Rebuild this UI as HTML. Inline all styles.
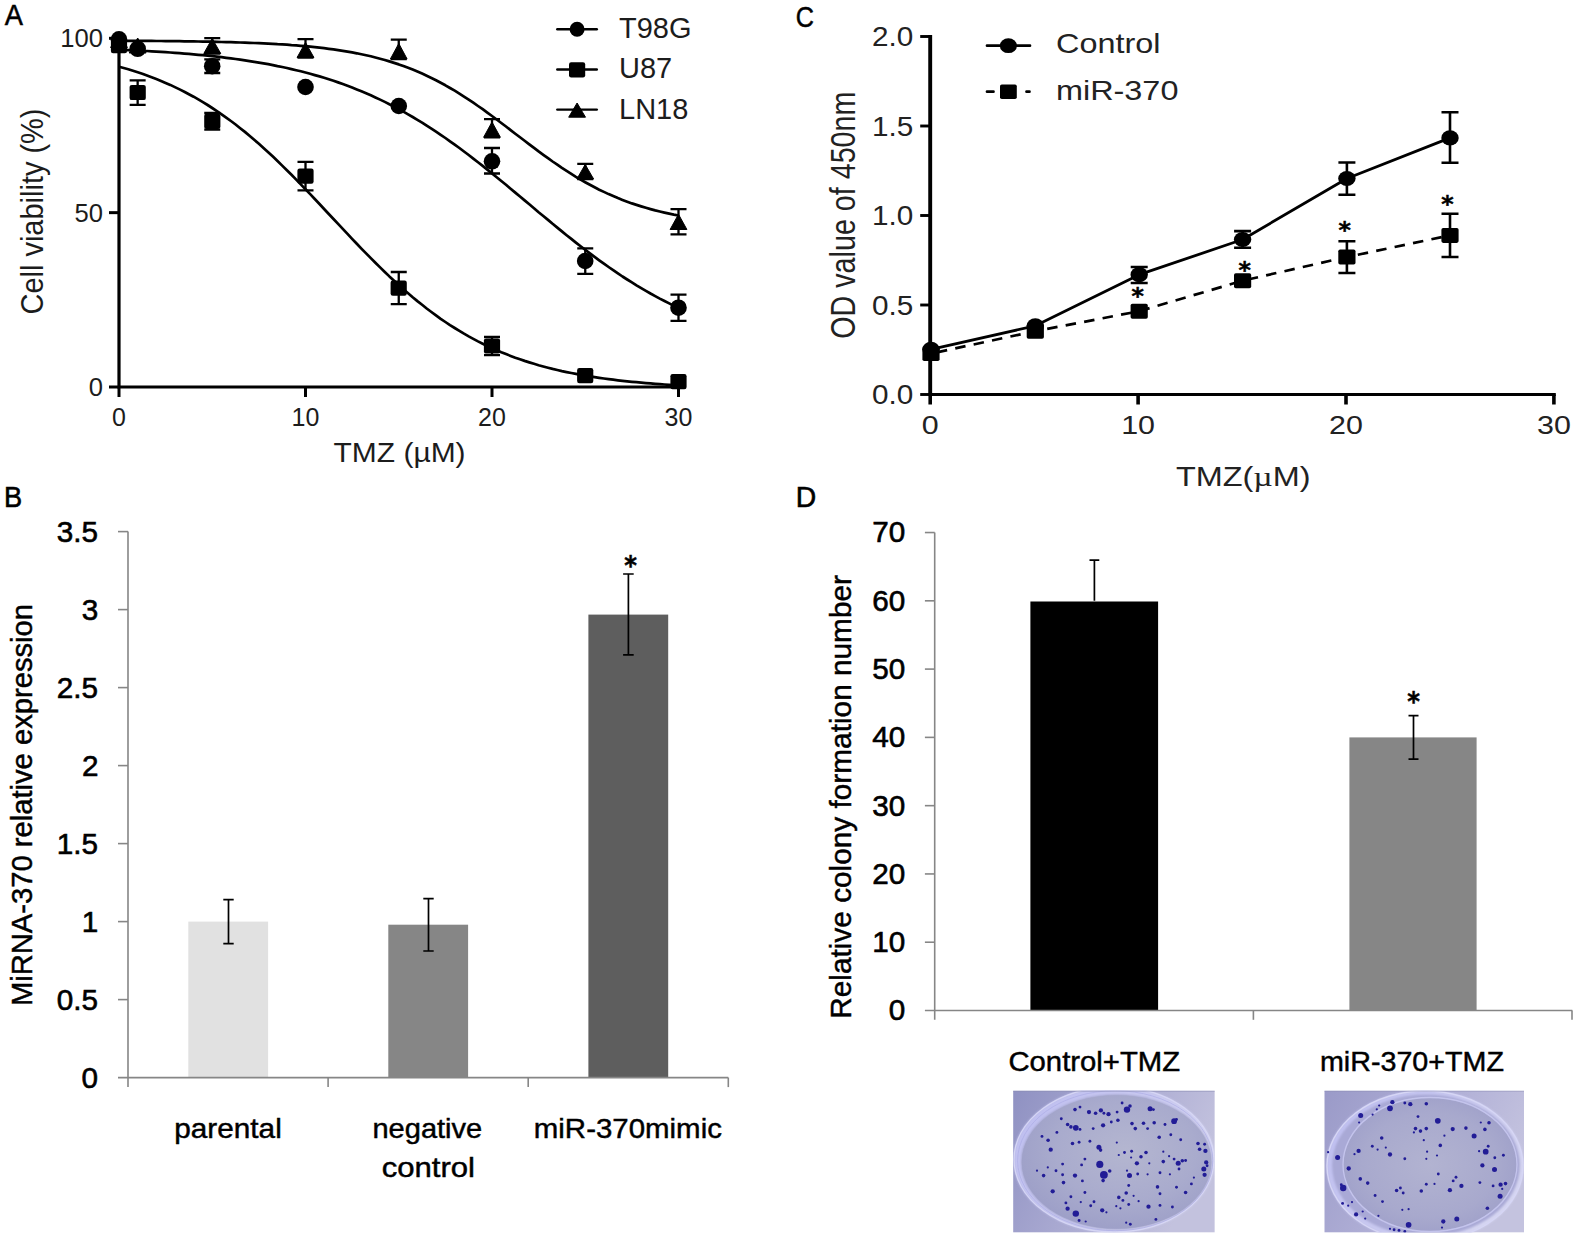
<!DOCTYPE html>
<html lang="en"><head><meta charset="utf-8"><title>Figure</title>
<style>
html,body{margin:0;padding:0;background:#fff;}
body{width:1575px;height:1235px;overflow:hidden;}
svg{display:block;font-family:"Liberation Sans", Arial, Helvetica, sans-serif;}
</style></head><body>
<svg width="1575" height="1235" viewBox="0 0 1575 1235">
<rect width="1575" height="1235" fill="#fff"/>
<g id="panelA">
<text transform="translate(4.73 24.90) scale(0.9324 1)" font-size="29.3" fill="#000" stroke="#000" stroke-width="0.5">A</text>
<path d="M119.0 36.8V387.0H680.1" stroke="#000" stroke-width="3.2" fill="none"/>
<line x1="109.00" y1="387.00" x2="119.00" y2="387.00" stroke="#000" stroke-width="3"/>
<text x="102.9" y="396.1" font-size="25.6" text-anchor="end" fill="#1c1c1c">0</text>
<line x1="109.00" y1="212.65" x2="119.00" y2="212.65" stroke="#000" stroke-width="3"/>
<text x="102.9" y="221.75" font-size="25.6" text-anchor="end" fill="#1c1c1c">50</text>
<line x1="109.00" y1="38.30" x2="119.00" y2="38.30" stroke="#000" stroke-width="3"/>
<text x="102.9" y="47.40000000000001" font-size="25.6" text-anchor="end" fill="#1c1c1c">100</text>
<line x1="119.00" y1="387.00" x2="119.00" y2="397.00" stroke="#000" stroke-width="3"/>
<text x="119.0" y="426" font-size="25" text-anchor="middle" fill="#1c1c1c">0</text>
<line x1="305.50" y1="387.00" x2="305.50" y2="397.00" stroke="#000" stroke-width="3"/>
<text x="305.5" y="426" font-size="25" text-anchor="middle" fill="#1c1c1c">10</text>
<line x1="492.00" y1="387.00" x2="492.00" y2="397.00" stroke="#000" stroke-width="3"/>
<text x="492.0" y="426" font-size="25" text-anchor="middle" fill="#1c1c1c">20</text>
<line x1="678.50" y1="387.00" x2="678.50" y2="397.00" stroke="#000" stroke-width="3"/>
<text x="678.5" y="426" font-size="25" text-anchor="middle" fill="#1c1c1c">30</text>
<text transform="translate(333.53 461.50) scale(1.0551 1)" font-size="28.4" fill="#1c1c1c">TMZ (µM)</text>
<text transform="translate(43 211.5) rotate(-90)" font-size="31" text-anchor="middle" textLength="206" lengthAdjust="spacingAndGlyphs" fill="#1c1c1c">Cell viability (%)</text>
<path d="M119.0 40.7 L123.7 40.8 L128.3 40.8 L133.0 40.8 L137.7 40.8 L142.3 40.9 L147.0 40.9 L151.6 40.9 L156.3 41.0 L161.0 41.0 L165.6 41.1 L170.3 41.1 L174.9 41.2 L179.6 41.2 L184.3 41.3 L188.9 41.3 L193.6 41.4 L198.3 41.5 L202.9 41.6 L207.6 41.6 L212.2 41.7 L216.9 41.8 L221.6 42.0 L226.2 42.1 L230.9 42.2 L235.6 42.3 L240.2 42.5 L244.9 42.6 L249.5 42.8 L254.2 43.0 L258.9 43.2 L263.5 43.4 L268.2 43.6 L272.9 43.9 L277.5 44.2 L282.2 44.4 L286.9 44.7 L291.5 45.1 L296.2 45.4 L300.8 45.8 L305.5 46.2 L310.2 46.7 L314.8 47.1 L319.5 47.7 L324.1 48.2 L328.8 48.8 L333.5 49.4 L338.1 50.1 L342.8 50.8 L347.5 51.6 L352.1 52.4 L356.8 53.3 L361.4 54.3 L366.1 55.3 L370.8 56.3 L375.4 57.5 L380.1 58.7 L384.8 60.0 L389.4 61.4 L394.1 62.9 L398.8 64.4 L403.4 66.1 L408.1 67.8 L412.7 69.6 L417.4 71.6 L422.1 73.6 L426.7 75.7 L431.4 78.0 L436.0 80.3 L440.7 82.8 L445.4 85.3 L450.0 88.0 L454.7 90.7 L459.4 93.6 L464.0 96.6 L468.7 99.6 L473.3 102.7 L478.0 106.0 L482.7 109.2 L487.3 112.6 L492.0 116.0 L496.7 119.5 L501.3 123.0 L506.0 126.5 L510.6 130.1 L515.3 133.7 L520.0 137.3 L524.6 140.8 L529.3 144.4 L534.0 147.9 L538.6 151.4 L543.3 154.8 L548.0 158.2 L552.6 161.5 L557.3 164.7 L561.9 167.9 L566.6 170.9 L571.3 173.9 L575.9 176.8 L580.6 179.6 L585.2 182.2 L589.9 184.8 L594.6 187.3 L599.2 189.7 L603.9 191.9 L608.6 194.1 L613.2 196.1 L617.9 198.1 L622.5 199.9 L627.2 201.7 L631.9 203.4 L636.5 204.9 L641.2 206.4 L645.9 207.8 L650.5 209.1 L655.2 210.4 L659.8 211.5 L664.5 212.6 L669.2 213.6 L673.8 214.6 L678.5 215.5" stroke="#000" stroke-width="2.7" fill="none" stroke-linejoin="round"/>
<path d="M119.0 49.7 L123.7 49.9 L128.3 50.1 L133.0 50.3 L137.7 50.5 L142.3 50.8 L147.0 51.0 L151.6 51.3 L156.3 51.6 L161.0 51.9 L165.6 52.2 L170.3 52.5 L174.9 52.8 L179.6 53.2 L184.3 53.6 L188.9 53.9 L193.6 54.4 L198.3 54.8 L202.9 55.2 L207.6 55.7 L212.2 56.2 L216.9 56.7 L221.6 57.2 L226.2 57.8 L230.9 58.4 L235.6 59.0 L240.2 59.7 L244.9 60.4 L249.5 61.1 L254.2 61.8 L258.9 62.6 L263.5 63.4 L268.2 64.2 L272.9 65.1 L277.5 66.1 L282.2 67.0 L286.9 68.0 L291.5 69.1 L296.2 70.2 L300.8 71.3 L305.5 72.5 L310.2 73.8 L314.8 75.1 L319.5 76.4 L324.1 77.8 L328.8 79.3 L333.5 80.8 L338.1 82.4 L342.8 84.1 L347.5 85.8 L352.1 87.5 L356.8 89.4 L361.4 91.3 L366.1 93.3 L370.8 95.3 L375.4 97.4 L380.1 99.6 L384.8 101.9 L389.4 104.2 L394.1 106.6 L398.8 109.1 L403.4 111.6 L408.1 114.3 L412.7 117.0 L417.4 119.8 L422.1 122.6 L426.7 125.6 L431.4 128.6 L436.0 131.6 L440.7 134.8 L445.4 138.0 L450.0 141.3 L454.7 144.6 L459.4 148.0 L464.0 151.5 L468.7 155.0 L473.3 158.6 L478.0 162.2 L482.7 165.9 L487.3 169.6 L492.0 173.4 L496.7 177.2 L501.3 181.0 L506.0 184.8 L510.6 188.7 L515.3 192.6 L520.0 196.5 L524.6 200.4 L529.3 204.3 L534.0 208.2 L538.6 212.2 L543.3 216.0 L548.0 219.9 L552.6 223.8 L557.3 227.6 L561.9 231.4 L566.6 235.2 L571.3 238.9 L575.9 242.6 L580.6 246.3 L585.2 249.8 L589.9 253.4 L594.6 256.9 L599.2 260.3 L603.9 263.7 L608.6 267.0 L613.2 270.2 L617.9 273.4 L622.5 276.5 L627.2 279.5 L631.9 282.4 L636.5 285.3 L641.2 288.1 L645.9 290.8 L650.5 293.5 L655.2 296.1 L659.8 298.6 L664.5 301.0 L669.2 303.4 L673.8 305.7 L678.5 307.9" stroke="#000" stroke-width="2.7" fill="none" stroke-linejoin="round"/>
<path d="M119.0 66.7 L123.7 68.0 L128.3 69.3 L133.0 70.8 L137.7 72.3 L142.3 73.8 L147.0 75.5 L151.6 77.2 L156.3 79.0 L161.0 80.9 L165.6 82.9 L170.3 84.9 L174.9 87.1 L179.6 89.4 L184.3 91.7 L188.9 94.2 L193.6 96.7 L198.3 99.4 L202.9 102.1 L207.6 105.0 L212.2 108.0 L216.9 111.1 L221.6 114.3 L226.2 117.6 L230.9 121.0 L235.6 124.5 L240.2 128.2 L244.9 131.9 L249.5 135.8 L254.2 139.8 L258.9 143.8 L263.5 148.0 L268.2 152.2 L272.9 156.6 L277.5 161.0 L282.2 165.6 L286.9 170.2 L291.5 174.8 L296.2 179.6 L300.8 184.4 L305.5 189.2 L310.2 194.1 L314.8 199.0 L319.5 204.0 L324.1 209.0 L328.8 214.0 L333.5 219.0 L338.1 223.9 L342.8 228.9 L347.5 233.9 L352.1 238.8 L356.8 243.7 L361.4 248.6 L366.1 253.4 L370.8 258.1 L375.4 262.8 L380.1 267.4 L384.8 271.9 L389.4 276.4 L394.1 280.7 L398.8 285.0 L403.4 289.2 L408.1 293.2 L412.7 297.2 L417.4 301.1 L422.1 304.8 L426.7 308.5 L431.4 312.0 L436.0 315.4 L440.7 318.8 L445.4 322.0 L450.0 325.1 L454.7 328.0 L459.4 330.9 L464.0 333.7 L468.7 336.4 L473.3 338.9 L478.0 341.4 L482.7 343.7 L487.3 346.0 L492.0 348.2 L496.7 350.2 L501.3 352.2 L506.0 354.1 L510.6 355.9 L515.3 357.7 L520.0 359.3 L524.6 360.9 L529.3 362.4 L534.0 363.8 L538.6 365.2 L543.3 366.5 L548.0 367.7 L552.6 368.9 L557.3 370.0 L561.9 371.1 L566.6 372.1 L571.3 373.0 L575.9 373.9 L580.6 374.8 L585.2 375.6 L589.9 376.4 L594.6 377.1 L599.2 377.8 L603.9 378.5 L608.6 379.1 L613.2 379.7 L617.9 380.3 L622.5 380.8 L627.2 381.3 L631.9 381.8 L636.5 382.2 L641.2 382.7 L645.9 383.1 L650.5 383.4 L655.2 383.8 L659.8 384.1 L664.5 384.5 L669.2 384.8 L673.8 385.1 L678.5 385.3" stroke="#000" stroke-width="2.7" fill="none" stroke-linejoin="round"/>
<path d="M110.6 47.5L119.0 32.5L127.4 47.5Z" fill="#000" stroke="#000" stroke-width="1" stroke-linejoin="round"/>
<path d="M129.2 53.0L137.7 38.0L146.1 53.0Z" fill="#000" stroke="#000" stroke-width="1" stroke-linejoin="round"/>
<path d="M212.25 38.10V53.50M204.25 38.10H220.25M204.25 53.50H220.25" stroke="#000" stroke-width="2.3" fill="none"/>
<path d="M203.8 53.5L212.2 38.5L220.7 53.5Z" fill="#000" stroke="#000" stroke-width="1" stroke-linejoin="round"/>
<path d="M305.50 39.20V57.50M297.50 39.20H313.50M297.50 57.50H313.50" stroke="#000" stroke-width="2.3" fill="none"/>
<path d="M297.1 57.5L305.5 42.5L313.9 57.5Z" fill="#000" stroke="#000" stroke-width="1" stroke-linejoin="round"/>
<path d="M398.75 39.70V59.00M390.75 39.70H406.75M390.75 59.00H406.75" stroke="#000" stroke-width="2.3" fill="none"/>
<path d="M390.4 59.0L398.8 43.5L407.1 59.0Z" fill="#000" stroke="#000" stroke-width="1" stroke-linejoin="round"/>
<path d="M492.00 119.20V137.30M484.00 119.20H500.00M484.00 137.30H500.00" stroke="#000" stroke-width="2.3" fill="none"/>
<path d="M483.6 137.3L492.0 122.0L500.4 137.3Z" fill="#000" stroke="#000" stroke-width="1" stroke-linejoin="round"/>
<path d="M585.25 163.80V179.00M577.25 163.80H593.25M577.25 179.00H593.25" stroke="#000" stroke-width="2.3" fill="none"/>
<path d="M576.9 179.0L585.2 164.5L593.6 179.0Z" fill="#000" stroke="#000" stroke-width="1" stroke-linejoin="round"/>
<path d="M678.50 209.20V234.30M670.50 209.20H686.50M670.50 234.30H686.50" stroke="#000" stroke-width="2.3" fill="none"/>
<path d="M670.1 229.5L678.5 214.3L686.9 229.5Z" fill="#000" stroke="#000" stroke-width="1" stroke-linejoin="round"/>
<circle cx="119.0" cy="39.4" r="8.3" fill="#000"/>
<circle cx="137.7" cy="48.8" r="8.3" fill="#000"/>
<path d="M212.25 59.40V73.00M204.25 59.40H220.25M204.25 73.00H220.25" stroke="#000" stroke-width="2.3" fill="none"/>
<circle cx="212.2" cy="66.2" r="8.3" fill="#000"/>
<circle cx="305.5" cy="87.0" r="8.3" fill="#000"/>
<circle cx="398.8" cy="106.0" r="8.3" fill="#000"/>
<path d="M492.00 148.00V173.50M484.00 148.00H500.00M484.00 173.50H500.00" stroke="#000" stroke-width="2.3" fill="none"/>
<circle cx="492.0" cy="161.3" r="8.3" fill="#000"/>
<path d="M585.25 248.40V273.80M577.25 248.40H593.25M577.25 273.80H593.25" stroke="#000" stroke-width="2.3" fill="none"/>
<circle cx="585.2" cy="261.0" r="8.3" fill="#000"/>
<path d="M678.50 294.70V320.80M670.50 294.70H686.50M670.50 320.80H686.50" stroke="#000" stroke-width="2.3" fill="none"/>
<circle cx="678.5" cy="307.7" r="8.3" fill="#000"/>
<rect x="110.9" y="38.1" width="16.2" height="15.2" rx="2.2" fill="#000"/>
<path d="M137.65 80.30V104.90M129.65 80.30H145.65M129.65 104.90H145.65" stroke="#000" stroke-width="2.3" fill="none"/>
<rect x="129.6" y="84.9" width="16.2" height="15.2" rx="2.2" fill="#000"/>
<path d="M212.25 113.00V129.60M204.25 113.00H220.25M204.25 129.60H220.25" stroke="#000" stroke-width="2.3" fill="none"/>
<rect x="204.2" y="113.7" width="16.2" height="15.2" rx="2.2" fill="#000"/>
<path d="M305.50 161.90V190.30M297.50 161.90H313.50M297.50 190.30H313.50" stroke="#000" stroke-width="2.3" fill="none"/>
<rect x="297.4" y="168.5" width="16.2" height="15.2" rx="2.2" fill="#000"/>
<path d="M398.75 272.00V304.10M390.75 272.00H406.75M390.75 304.10H406.75" stroke="#000" stroke-width="2.3" fill="none"/>
<rect x="390.6" y="280.6" width="16.2" height="15.2" rx="2.2" fill="#000"/>
<path d="M492.00 337.00V355.20M484.00 337.00H500.00M484.00 355.20H500.00" stroke="#000" stroke-width="2.3" fill="none"/>
<rect x="483.9" y="338.4" width="16.2" height="15.2" rx="2.2" fill="#000"/>
<rect x="577.1" y="368.1" width="16.2" height="15.2" rx="2.2" fill="#000"/>
<rect x="670.4" y="374.1" width="16.2" height="15.2" rx="2.2" fill="#000"/>
<line x1="557.30" y1="29.30" x2="596.80" y2="29.30" stroke="#000" stroke-width="2.4" stroke-linecap="round"/>
<circle cx="577.1" cy="29.3" r="7.5" fill="#000"/>
<text x="619" y="38.2" font-size="29" fill="#1c1c1c">T98G</text>
<line x1="557.30" y1="69.50" x2="596.80" y2="69.50" stroke="#000" stroke-width="2.4" stroke-linecap="round"/>
<rect x="569.0" y="62.2" width="16.2" height="15.2" rx="2.2" fill="#000"/>
<text x="619" y="78.4" font-size="29" fill="#1c1c1c">U87</text>
<line x1="557.30" y1="109.60" x2="596.80" y2="109.60" stroke="#000" stroke-width="2.4" stroke-linecap="round"/>
<path d="M568.7 117.2L577.1 103.0L585.5 117.2Z" fill="#000" stroke="#000" stroke-width="1" stroke-linejoin="round"/>
<text x="619" y="118.5" font-size="29" fill="#1c1c1c">LN18</text>
</g>
<g id="panelC">
<text transform="translate(795.74 26.50) scale(0.8749 1)" font-size="28.8" fill="#000" stroke="#000" stroke-width="0.5">C</text>
<path d="M930.2 35.0V394.5" stroke="#000" stroke-width="3.9" fill="none"/>
<path d="M928.3 394.5H1555.8" stroke="#000" stroke-width="3" fill="none"/>
<line x1="920.20" y1="394.50" x2="930.20" y2="394.50" stroke="#000" stroke-width="2.9"/>
<text transform="translate(913.2 404.2) scale(1.1 1)" font-size="27" text-anchor="end" fill="#222">0.0</text>
<line x1="920.20" y1="305.00" x2="930.20" y2="305.00" stroke="#000" stroke-width="2.9"/>
<text transform="translate(913.2 314.7) scale(1.1 1)" font-size="27" text-anchor="end" fill="#222">0.5</text>
<line x1="920.20" y1="215.50" x2="930.20" y2="215.50" stroke="#000" stroke-width="2.9"/>
<text transform="translate(913.2 225.2) scale(1.1 1)" font-size="27" text-anchor="end" fill="#222">1.0</text>
<line x1="920.20" y1="126.00" x2="930.20" y2="126.00" stroke="#000" stroke-width="2.9"/>
<text transform="translate(913.2 135.7) scale(1.1 1)" font-size="27" text-anchor="end" fill="#222">1.5</text>
<line x1="920.20" y1="36.50" x2="930.20" y2="36.50" stroke="#000" stroke-width="2.9"/>
<text transform="translate(913.2 46.2) scale(1.1 1)" font-size="27" text-anchor="end" fill="#222">2.0</text>
<line x1="930.20" y1="394.50" x2="930.20" y2="404.50" stroke="#000" stroke-width="3.6"/>
<text transform="translate(930.2 433.6) scale(1.17 1)" font-size="26" text-anchor="middle" fill="#222">0</text>
<line x1="1138.10" y1="394.50" x2="1138.10" y2="404.50" stroke="#000" stroke-width="3.6"/>
<text transform="translate(1138.1 433.6) scale(1.17 1)" font-size="26" text-anchor="middle" fill="#222">10</text>
<line x1="1346.00" y1="394.50" x2="1346.00" y2="404.50" stroke="#000" stroke-width="3.6"/>
<text transform="translate(1346.0 433.6) scale(1.17 1)" font-size="26" text-anchor="middle" fill="#222">20</text>
<line x1="1553.90" y1="394.50" x2="1553.90" y2="404.50" stroke="#000" stroke-width="3.6"/>
<text transform="translate(1553.9 433.6) scale(1.17 1)" font-size="26" text-anchor="middle" fill="#222">30</text>
<text transform="translate(1176 486.2) scale(1.2 1)" font-size="27" fill="#222">TMZ(<tspan font-family='"Liberation Serif", "DejaVu Serif", serif' font-size="28">µ</tspan>M)</text>
<text transform="translate(854.60 338.76) rotate(-90) scale(1.0633 1.28)" font-size="27" fill="#222">OD value of 450nm</text>
<path d="M931.0 349.3 L1035.3 325.8 L1139.2 274.7 L1242.6 239.5 L1346.9 178.5 L1450.0 137.9" stroke="#000" stroke-width="2.8" fill="none" stroke-linejoin="round"/>
<path d="M931.0 353.6 L1035.3 331.2 L1139.2 311.2 L1242.6 280.7 L1346.9 257.0 L1450.0 235.4" stroke="#000" stroke-width="2.7" fill="none" stroke-dasharray="10.5 8.3" stroke-dashoffset="-6"/>
<ellipse cx="931.0" cy="349.3" rx="8.7" ry="7.6" fill="#000"/>
<ellipse cx="1035.3" cy="325.8" rx="8.7" ry="7.6" fill="#000"/>
<path d="M1139.20 267.00V283.00M1130.70 267.00H1147.70M1130.70 283.00H1147.70" stroke="#000" stroke-width="2.6" fill="none"/>
<ellipse cx="1139.2" cy="274.7" rx="8.7" ry="7.6" fill="#000"/>
<path d="M1242.60 231.10V247.70M1234.10 231.10H1251.10M1234.10 247.70H1251.10" stroke="#000" stroke-width="2.6" fill="none"/>
<ellipse cx="1242.6" cy="239.5" rx="8.7" ry="7.6" fill="#000"/>
<path d="M1346.90 162.50V194.80M1338.40 162.50H1355.40M1338.40 194.80H1355.40" stroke="#000" stroke-width="2.6" fill="none"/>
<ellipse cx="1346.9" cy="178.5" rx="8.7" ry="7.6" fill="#000"/>
<path d="M1450.00 112.30V162.80M1441.50 112.30H1458.50M1441.50 162.80H1458.50" stroke="#000" stroke-width="2.6" fill="none"/>
<ellipse cx="1450.0" cy="137.9" rx="8.7" ry="7.6" fill="#000"/>
<rect x="922.4" y="346.1" width="17.2" height="15.0" rx="1.8" fill="#000"/>
<rect x="1026.7" y="323.7" width="17.2" height="15.0" rx="1.8" fill="#000"/>
<rect x="1130.6" y="303.7" width="17.2" height="15.0" rx="1.8" fill="#000"/>
<rect x="1234.0" y="273.2" width="17.2" height="15.0" rx="1.8" fill="#000"/>
<path d="M1346.90 241.30V273.00M1338.40 241.30H1355.40M1338.40 273.00H1355.40" stroke="#000" stroke-width="2.6" fill="none"/>
<rect x="1338.3" y="249.5" width="17.2" height="15.0" rx="1.8" fill="#000"/>
<path d="M1450.00 213.80V257.00M1441.50 213.80H1458.50M1441.50 257.00H1458.50" stroke="#000" stroke-width="2.6" fill="none"/>
<rect x="1441.4" y="227.9" width="17.2" height="15.0" rx="1.8" fill="#000"/>
<text transform="translate(1131.53 303.83) scale(1.036 1)" font-size="22.80" font-weight="bold" font-family='"DejaVu Sans", "Liberation Sans", sans-serif' fill="#000" stroke="#000" stroke-width="0.5">*</text>
<text transform="translate(1238.43 278.33) scale(1.036 1)" font-size="22.80" font-weight="bold" font-family='"DejaVu Sans", "Liberation Sans", sans-serif' fill="#000" stroke="#000" stroke-width="0.5">*</text>
<text transform="translate(1338.53 238.43) scale(1.036 1)" font-size="22.80" font-weight="bold" font-family='"DejaVu Sans", "Liberation Sans", sans-serif' fill="#000" stroke="#000" stroke-width="0.5">*</text>
<text transform="translate(1441.13 212.23) scale(1.036 1)" font-size="22.80" font-weight="bold" font-family='"DejaVu Sans", "Liberation Sans", sans-serif' fill="#000" stroke="#000" stroke-width="0.5">*</text>
<line x1="987.00" y1="45.70" x2="1030.00" y2="45.70" stroke="#000" stroke-width="2.7" stroke-linecap="round"/>
<ellipse cx="1008.4" cy="45.7" rx="8.6" ry="7.4" fill="#000"/>
<text transform="translate(1056 53.3) scale(1.2 1)" font-size="27" fill="#222">Control</text>
<line x1="987.00" y1="91.70" x2="993.50" y2="91.70" stroke="#000" stroke-width="2.7" stroke-linecap="round"/>
<line x1="1026.50" y1="91.70" x2="1029.50" y2="91.70" stroke="#000" stroke-width="2.7" stroke-linecap="round"/>
<rect x="1000.0" y="84.4" width="16.8" height="14.6" rx="1.8" fill="#000"/>
<text transform="translate(1056 99.5) scale(1.2 1)" font-size="27" fill="#222">miR-370</text>
</g>
<g id="panelB">
<text transform="translate(4.05 506.60) scale(0.9390 1)" font-size="29" fill="#000" stroke="#000" stroke-width="0.6">B</text>
<rect x="188.3" y="921.6" width="79.8" height="156.0" fill="#e1e1e1"/>
<rect x="388.3" y="924.7" width="79.8" height="152.9" fill="#868686"/>
<rect x="588.4" y="614.6" width="79.8" height="463.0" fill="#5e5e5e"/>
<path d="M128.0 531.6V1087.1M118.0 1077.6H728.3" stroke="#868686" stroke-width="1.6" fill="none"/>
<text transform="translate(81.53 1087.50) scale(1.0000 1)" font-size="29.7" fill="#000" stroke="#000" stroke-width="0.6">0</text>
<line x1="118.00" y1="999.60" x2="128.00" y2="999.60" stroke="#868686" stroke-width="1.6"/>
<text transform="translate(56.81 1009.50) scale(1.0000 1)" font-size="29.7" fill="#000" stroke="#000" stroke-width="0.6">0.5</text>
<line x1="118.00" y1="921.60" x2="128.00" y2="921.60" stroke="#868686" stroke-width="1.6"/>
<text transform="translate(81.83 931.50) scale(1.0000 1)" font-size="29.7" fill="#000" stroke="#000" stroke-width="0.6">1</text>
<line x1="118.00" y1="843.60" x2="128.00" y2="843.60" stroke="#868686" stroke-width="1.6"/>
<text transform="translate(56.81 853.50) scale(1.0000 1)" font-size="29.7" fill="#000" stroke="#000" stroke-width="0.6">1.5</text>
<line x1="118.00" y1="765.60" x2="128.00" y2="765.60" stroke="#868686" stroke-width="1.6"/>
<text transform="translate(81.90 775.50) scale(1.0000 1)" font-size="29.7" fill="#000" stroke="#000" stroke-width="0.6">2</text>
<line x1="118.00" y1="687.60" x2="128.00" y2="687.60" stroke="#868686" stroke-width="1.6"/>
<text transform="translate(56.81 697.50) scale(1.0000 1)" font-size="29.7" fill="#000" stroke="#000" stroke-width="0.6">2.5</text>
<line x1="118.00" y1="609.60" x2="128.00" y2="609.60" stroke="#868686" stroke-width="1.6"/>
<text transform="translate(81.68 619.50) scale(1.0000 1)" font-size="29.7" fill="#000" stroke="#000" stroke-width="0.6">3</text>
<line x1="118.00" y1="531.60" x2="128.00" y2="531.60" stroke="#868686" stroke-width="1.6"/>
<text transform="translate(56.81 541.50) scale(1.0000 1)" font-size="29.7" fill="#000" stroke="#000" stroke-width="0.6">3.5</text>
<line x1="328.10" y1="1077.60" x2="328.10" y2="1087.10" stroke="#868686" stroke-width="1.6"/>
<line x1="528.20" y1="1077.60" x2="528.20" y2="1087.10" stroke="#868686" stroke-width="1.6"/>
<line x1="728.30" y1="1077.60" x2="728.30" y2="1087.10" stroke="#868686" stroke-width="1.6"/>
<path d="M228.50 899.70V943.70M223.30 899.70H233.70M223.30 943.70H233.70" stroke="#000" stroke-width="1.7" fill="none"/>
<path d="M428.50 898.70V951.00M423.30 898.70H433.70M423.30 951.00H433.70" stroke="#000" stroke-width="1.7" fill="none"/>
<path d="M628.40 574.00V654.80M623.10 574.00H633.70M623.10 654.80H633.70" stroke="#000" stroke-width="1.7" fill="none"/>
<text transform="translate(624.27 574.76) scale(0.940 1)" font-size="25.81" font-weight="bold" font-family='"DejaVu Sans", "Liberation Sans", sans-serif' fill="#000" stroke="#000" stroke-width="0.5">*</text>
<text transform="translate(174.27 1137.90) scale(1.0740 1)" font-size="27.7" fill="#000" stroke="#000" stroke-width="0.45">parental</text>
<text transform="translate(372.44 1137.90) scale(1.0486 1)" font-size="27.7" fill="#000" stroke="#000" stroke-width="0.45">negative</text>
<text transform="translate(381.68 1176.70) scale(1.1233 1)" font-size="27.7" fill="#000" stroke="#000" stroke-width="0.45">control</text>
<text transform="translate(533.81 1138.00) scale(1.0632 1)" font-size="27.7" fill="#000" stroke="#000" stroke-width="0.45">miR-370mimic</text>
<text transform="translate(31.80 1006.11) rotate(-90) scale(1.0066 1.0)" font-size="29" fill="#000" stroke="#000" stroke-width="0.45">MiRNA-370 relative expression</text>
</g>
<g id="panelD">
<text transform="translate(795.66 506.60) scale(0.9777 1)" font-size="29" fill="#000" stroke="#000" stroke-width="0.6">D</text>
<rect x="1030.4" y="601.5" width="127.7" height="409.0" fill="#000"/>
<rect x="1349.4" y="737.4" width="127.2" height="273.1" fill="#868686"/>
<path d="M934.7 532.5V1019.8M924.9000000000001 1010.5H1572.3" stroke="#868686" stroke-width="1.6" fill="none"/>
<text transform="translate(888.83 1020.40) scale(1.0000 1)" font-size="29.7" fill="#000" stroke="#000" stroke-width="0.6">0</text>
<line x1="924.90" y1="942.22" x2="934.70" y2="942.22" stroke="#868686" stroke-width="1.6"/>
<text transform="translate(872.35 952.12) scale(1.0000 1)" font-size="29.7" fill="#000" stroke="#000" stroke-width="0.6">10</text>
<line x1="924.90" y1="873.94" x2="934.70" y2="873.94" stroke="#868686" stroke-width="1.6"/>
<text transform="translate(872.35 883.84) scale(1.0000 1)" font-size="29.7" fill="#000" stroke="#000" stroke-width="0.6">20</text>
<line x1="924.90" y1="805.66" x2="934.70" y2="805.66" stroke="#868686" stroke-width="1.6"/>
<text transform="translate(872.35 815.56) scale(1.0000 1)" font-size="29.7" fill="#000" stroke="#000" stroke-width="0.6">30</text>
<line x1="924.90" y1="737.38" x2="934.70" y2="737.38" stroke="#868686" stroke-width="1.6"/>
<text transform="translate(872.35 747.28) scale(1.0000 1)" font-size="29.7" fill="#000" stroke="#000" stroke-width="0.6">40</text>
<line x1="924.90" y1="669.10" x2="934.70" y2="669.10" stroke="#868686" stroke-width="1.6"/>
<text transform="translate(872.35 679.00) scale(1.0000 1)" font-size="29.7" fill="#000" stroke="#000" stroke-width="0.6">50</text>
<line x1="924.90" y1="600.82" x2="934.70" y2="600.82" stroke="#868686" stroke-width="1.6"/>
<text transform="translate(872.35 610.72) scale(1.0000 1)" font-size="29.7" fill="#000" stroke="#000" stroke-width="0.6">60</text>
<line x1="924.90" y1="532.54" x2="934.70" y2="532.54" stroke="#868686" stroke-width="1.6"/>
<text transform="translate(872.35 542.44) scale(1.0000 1)" font-size="29.7" fill="#000" stroke="#000" stroke-width="0.6">70</text>
<line x1="1253.40" y1="1010.50" x2="1253.40" y2="1019.80" stroke="#868686" stroke-width="1.6"/>
<line x1="1572.00" y1="1010.50" x2="1572.00" y2="1019.80" stroke="#868686" stroke-width="1.6"/>
<path d="M1094.4 600.8V560.2M1089.5 560.2H1099.3" stroke="#000" stroke-width="1.7" fill="none"/>
<path d="M1413.50 715.70V759.20M1408.50 715.70H1418.50M1408.50 759.20H1418.50" stroke="#000" stroke-width="1.7" fill="none"/>
<text transform="translate(1407.17 711.47) scale(0.932 1)" font-size="26.02" font-weight="bold" font-family='"DejaVu Sans", "Liberation Sans", sans-serif' fill="#000" stroke="#000" stroke-width="0.5">*</text>
<text transform="translate(1008.44 1071.00) scale(1.0570 1)" font-size="27.7" fill="#000" stroke="#000" stroke-width="0.45">Control+TMZ</text>
<text transform="translate(1319.96 1071.00) scale(1.0356 1)" font-size="27.7" fill="#000" stroke="#000" stroke-width="0.45">miR-370+TMZ</text>
<text transform="translate(851.20 1018.76) rotate(-90) scale(1.0277 1.0)" font-size="29" fill="#000" stroke="#000" stroke-width="0.45">Relative colony formation number</text>
</g>
<defs>
<filter id="bl1" x="-5%" y="-5%" width="110%" height="110%"><feGaussianBlur stdDeviation="0.7"/></filter>
<filter id="bl2" x="-5%" y="-5%" width="110%" height="110%"><feGaussianBlur stdDeviation="1.2"/></filter>
<linearGradient id="bg1" x1="0" y1="0" x2="1" y2="0.35"><stop offset="0" stop-color="#8f91c2"/><stop offset="0.5" stop-color="#a9a9d1"/><stop offset="1" stop-color="#c3c2de"/></linearGradient>
<linearGradient id="bg2" x1="0" y1="0" x2="1" y2="0.4"><stop offset="0" stop-color="#9a9ac8"/><stop offset="0.55" stop-color="#b0afd6"/><stop offset="1" stop-color="#c4c3df"/></linearGradient>
<radialGradient id="fl1" cx="0.55" cy="0.42" r="0.62"><stop offset="0" stop-color="#b4b6d0"/><stop offset="0.6" stop-color="#a9abcd"/><stop offset="1" stop-color="#9c9ec7"/></radialGradient>
<radialGradient id="fl2" cx="0.5" cy="0.5" r="0.6"><stop offset="0" stop-color="#b2b3d1"/><stop offset="0.65" stop-color="#a8a9cd"/><stop offset="1" stop-color="#9c9dc8"/></radialGradient>
<linearGradient id="rm1" x1="0" y1="0" x2="1" y2="0.5"><stop offset="0" stop-color="#bdbdf0"/><stop offset="0.6" stop-color="#c9c9f0"/><stop offset="1" stop-color="#d6d6f2"/></linearGradient>
<clipPath id="cp1"><rect x="1013.1" y="1090.6" width="201.7" height="142"/></clipPath>
<clipPath id="cp2"><rect x="1324.3" y="1090.6" width="199.7" height="142"/></clipPath>
</defs>
<g id="dish1" clip-path="url(#cp1)">
<rect x="1013.1" y="1090.6" width="201.7" height="142" fill="url(#bg1)"/>
<g filter="url(#bl2)">
<ellipse cx="1114" cy="1159.5" rx="100.5" ry="73" fill="url(#rm1)"/>
<ellipse cx="1116.5" cy="1162" rx="95.5" ry="67.5" fill="#a3a4cb"/>
</g>
<g filter="url(#bl1)">
<ellipse cx="1116.5" cy="1162" rx="94.8" ry="66.8" fill="url(#fl1)"/>
<ellipse cx="1114" cy="1159.5" rx="100" ry="72.5" fill="none" stroke="#d8d8f6" stroke-width="1.3" opacity="0.9"/>
<ellipse cx="1115.2" cy="1160.7" rx="97.6" ry="70" fill="none" stroke="#aeaee6" stroke-width="1" opacity="0.7"/>
</g>
<g fill="#211c96" filter="url(#bl1)"><circle cx="1075.0" cy="1109.6" r="1.78"/><circle cx="1080.0" cy="1107.1" r="1.43"/><circle cx="1089.0" cy="1112.1" r="2.14"/><circle cx="1095.6" cy="1113.2" r="1.78"/><circle cx="1100.9" cy="1110.4" r="2.14"/><circle cx="1103.9" cy="1113.2" r="1.43"/><circle cx="1108.5" cy="1114.2" r="2.14"/><circle cx="1117.1" cy="1112.1" r="1.43"/><circle cx="1122.1" cy="1103.0" r="1.43"/><circle cx="1127.0" cy="1109.6" r="3.21"/><circle cx="1130.0" cy="1106.0" r="1.78"/><circle cx="1150.1" cy="1108.8" r="2.50"/><circle cx="1153.4" cy="1109.6" r="1.43"/><circle cx="1061.3" cy="1118.7" r="1.43"/><circle cx="1067.6" cy="1124.5" r="1.78"/><circle cx="1070.9" cy="1126.9" r="1.78"/><circle cx="1075.8" cy="1127.8" r="2.85"/><circle cx="1080.0" cy="1129.4" r="1.43"/><circle cx="1093.2" cy="1128.6" r="1.43"/><circle cx="1103.1" cy="1125.3" r="2.14"/><circle cx="1111.3" cy="1122.0" r="1.43"/><circle cx="1117.9" cy="1120.3" r="1.78"/><circle cx="1132.0" cy="1123.6" r="1.78"/><circle cx="1135.3" cy="1128.6" r="1.78"/><circle cx="1143.5" cy="1123.2" r="1.78"/><circle cx="1147.6" cy="1128.6" r="1.43"/><circle cx="1154.2" cy="1122.8" r="1.78"/><circle cx="1165.0" cy="1124.5" r="1.43"/><circle cx="1174.1" cy="1121.2" r="2.85"/><circle cx="1176.5" cy="1119.5" r="1.43"/><circle cx="1056.9" cy="1132.4" r="1.43"/><circle cx="1042.0" cy="1136.4" r="1.43"/><circle cx="1048.1" cy="1140.2" r="1.78"/><circle cx="1050.7" cy="1149.7" r="2.14"/><circle cx="1072.5" cy="1143.5" r="1.78"/><circle cx="1079.1" cy="1142.3" r="1.43"/><circle cx="1089.9" cy="1141.3" r="1.43"/><circle cx="1098.9" cy="1147.3" r="2.50"/><circle cx="1100.6" cy="1150.1" r="1.78"/><circle cx="1116.8" cy="1142.6" r="1.10"/><circle cx="1159.2" cy="1137.3" r="1.78"/><circle cx="1170.8" cy="1134.7" r="1.43"/><circle cx="1180.7" cy="1139.7" r="1.43"/><circle cx="1198.0" cy="1143.5" r="1.78"/><circle cx="1204.6" cy="1144.3" r="1.43"/><circle cx="1199.6" cy="1149.2" r="1.78"/><circle cx="1205.4" cy="1150.9" r="2.14"/><circle cx="1084.9" cy="1159.1" r="1.43"/><circle cx="1081.6" cy="1164.9" r="1.43"/><circle cx="1099.8" cy="1164.4" r="3.57"/><circle cx="1062.6" cy="1164.1" r="1.43"/><circle cx="1047.8" cy="1167.4" r="1.10"/><circle cx="1056.0" cy="1170.7" r="1.43"/><circle cx="1037.0" cy="1170.7" r="1.10"/><circle cx="1043.6" cy="1175.6" r="1.78"/><circle cx="1062.6" cy="1174.8" r="1.43"/><circle cx="1075.0" cy="1175.6" r="2.14"/><circle cx="1063.5" cy="1182.6" r="1.78"/><circle cx="1082.4" cy="1180.9" r="1.43"/><circle cx="1118.8" cy="1155.0" r="1.10"/><circle cx="1124.5" cy="1152.5" r="1.43"/><circle cx="1131.6" cy="1151.2" r="1.43"/><circle cx="1146.0" cy="1152.5" r="1.78"/><circle cx="1141.0" cy="1156.7" r="1.78"/><circle cx="1131.1" cy="1157.5" r="1.10"/><circle cx="1136.9" cy="1163.3" r="2.14"/><circle cx="1149.3" cy="1163.3" r="1.10"/><circle cx="1163.3" cy="1151.7" r="1.10"/><circle cx="1163.3" cy="1161.6" r="1.78"/><circle cx="1169.1" cy="1156.2" r="1.10"/><circle cx="1174.1" cy="1159.1" r="1.43"/><circle cx="1178.2" cy="1163.3" r="2.50"/><circle cx="1182.3" cy="1160.8" r="1.78"/><circle cx="1185.6" cy="1160.5" r="1.43"/><circle cx="1179.0" cy="1169.0" r="1.43"/><circle cx="1103.9" cy="1174.8" r="3.92"/><circle cx="1109.7" cy="1171.0" r="1.78"/><circle cx="1103.1" cy="1180.6" r="1.78"/><circle cx="1129.5" cy="1175.6" r="2.50"/><circle cx="1127.0" cy="1170.7" r="1.10"/><circle cx="1137.7" cy="1174.0" r="1.43"/><circle cx="1147.6" cy="1174.3" r="1.10"/><circle cx="1160.0" cy="1172.7" r="1.43"/><circle cx="1169.9" cy="1174.3" r="1.10"/><circle cx="1206.2" cy="1162.4" r="2.14"/><circle cx="1203.8" cy="1169.0" r="2.50"/><circle cx="1204.6" cy="1174.8" r="2.14"/><circle cx="1207.1" cy="1165.7" r="1.43"/><circle cx="1193.9" cy="1177.6" r="1.10"/><circle cx="1191.4" cy="1183.9" r="1.43"/><circle cx="1176.5" cy="1187.2" r="1.43"/><circle cx="1185.6" cy="1192.5" r="1.78"/><circle cx="1157.5" cy="1186.9" r="1.78"/><circle cx="1160.0" cy="1193.8" r="1.43"/><circle cx="1052.7" cy="1191.3" r="2.14"/><circle cx="1084.9" cy="1192.5" r="1.43"/><circle cx="1070.9" cy="1196.8" r="1.43"/><circle cx="1065.9" cy="1202.9" r="1.43"/><circle cx="1080.8" cy="1202.1" r="1.10"/><circle cx="1094.0" cy="1201.7" r="1.43"/><circle cx="1090.7" cy="1205.7" r="1.43"/><circle cx="1067.6" cy="1208.7" r="2.14"/><circle cx="1075.8" cy="1213.6" r="3.21"/><circle cx="1079.1" cy="1220.5" r="1.43"/><circle cx="1085.7" cy="1221.5" r="1.10"/><circle cx="1102.2" cy="1210.3" r="2.14"/><circle cx="1106.4" cy="1212.3" r="1.10"/><circle cx="1128.7" cy="1185.5" r="1.43"/><circle cx="1126.2" cy="1193.0" r="1.78"/><circle cx="1118.8" cy="1197.4" r="1.78"/><circle cx="1122.9" cy="1200.4" r="1.43"/><circle cx="1133.6" cy="1195.8" r="1.10"/><circle cx="1138.6" cy="1201.2" r="1.10"/><circle cx="1128.7" cy="1204.5" r="1.43"/><circle cx="1116.3" cy="1206.2" r="1.10"/><circle cx="1120.4" cy="1208.3" r="1.10"/><circle cx="1148.5" cy="1206.7" r="2.14"/><circle cx="1160.0" cy="1205.4" r="1.43"/><circle cx="1172.4" cy="1207.0" r="1.43"/><circle cx="1155.9" cy="1219.4" r="1.43"/><circle cx="1130.3" cy="1224.3" r="1.43"/><circle cx="1126.2" cy="1222.7" r="1.10"/></g>
<rect x="1013.1" y="1090.6" width="201.7" height="1" fill="#8a8cb0" opacity="0.7"/>
</g>
<g id="dish2" clip-path="url(#cp2)">
<rect x="1324.3" y="1090.6" width="199.7" height="142" fill="url(#bg2)"/>
<g filter="url(#bl2)">
<ellipse cx="1425" cy="1166" rx="98.5" ry="75.5" fill="url(#rm1)"/>
<ellipse cx="1426" cy="1165.5" rx="94" ry="71" fill="#a9a9d6"/>
</g>
<g filter="url(#bl1)">
<ellipse cx="1430" cy="1164.5" rx="86.5" ry="66.5" fill="url(#fl2)"/>
<ellipse cx="1425" cy="1166" rx="98" ry="75" fill="none" stroke="#d6d6f5" stroke-width="1.4"/>
<ellipse cx="1430" cy="1164.5" rx="87" ry="67" fill="none" stroke="#c6c6ee" stroke-width="1.3" opacity="0.9"/>
</g>
<g fill="#211c96" filter="url(#bl1)"><circle cx="1392.4" cy="1102.2" r="2.14"/><circle cx="1390.0" cy="1108.3" r="2.85"/><circle cx="1379.2" cy="1105.5" r="1.10"/><circle cx="1376.8" cy="1109.3" r="1.10"/><circle cx="1404.8" cy="1103.0" r="1.43"/><circle cx="1410.3" cy="1104.2" r="2.14"/><circle cx="1426.3" cy="1103.8" r="1.78"/><circle cx="1360.7" cy="1115.4" r="2.50"/><circle cx="1372.6" cy="1114.6" r="1.10"/><circle cx="1359.1" cy="1122.5" r="1.10"/><circle cx="1418.0" cy="1116.6" r="1.43"/><circle cx="1437.8" cy="1120.8" r="2.85"/><circle cx="1480.8" cy="1122.5" r="1.10"/><circle cx="1489.0" cy="1122.8" r="1.78"/><circle cx="1415.5" cy="1128.6" r="1.78"/><circle cx="1413.9" cy="1132.4" r="1.10"/><circle cx="1420.5" cy="1131.1" r="1.78"/><circle cx="1426.3" cy="1128.6" r="1.78"/><circle cx="1452.7" cy="1129.1" r="2.14"/><circle cx="1465.9" cy="1128.1" r="1.78"/><circle cx="1484.9" cy="1129.4" r="1.78"/><circle cx="1474.1" cy="1136.0" r="2.50"/><circle cx="1444.4" cy="1135.7" r="1.10"/><circle cx="1381.7" cy="1138.0" r="1.78"/><circle cx="1423.8" cy="1140.2" r="1.10"/><circle cx="1372.3" cy="1146.3" r="1.43"/><circle cx="1377.6" cy="1149.6" r="1.10"/><circle cx="1385.8" cy="1147.6" r="1.10"/><circle cx="1358.6" cy="1150.9" r="2.14"/><circle cx="1354.5" cy="1154.2" r="1.10"/><circle cx="1390.0" cy="1154.5" r="2.14"/><circle cx="1440.3" cy="1145.4" r="1.78"/><circle cx="1427.1" cy="1151.7" r="1.10"/><circle cx="1437.0" cy="1155.5" r="1.10"/><circle cx="1426.3" cy="1158.8" r="1.10"/><circle cx="1404.8" cy="1158.8" r="1.43"/><circle cx="1488.2" cy="1146.3" r="1.43"/><circle cx="1485.7" cy="1151.7" r="2.85"/><circle cx="1479.1" cy="1151.2" r="1.10"/><circle cx="1494.8" cy="1157.8" r="1.43"/><circle cx="1503.4" cy="1155.3" r="1.43"/><circle cx="1328.1" cy="1152.2" r="1.10"/><circle cx="1337.6" cy="1157.5" r="2.50"/><circle cx="1348.7" cy="1168.5" r="2.14"/><circle cx="1482.4" cy="1165.4" r="2.14"/><circle cx="1494.5" cy="1169.4" r="2.50"/><circle cx="1438.3" cy="1174.0" r="1.43"/><circle cx="1456.0" cy="1177.3" r="1.43"/><circle cx="1453.2" cy="1180.9" r="1.43"/><circle cx="1360.3" cy="1178.9" r="1.78"/><circle cx="1367.7" cy="1183.1" r="1.78"/><circle cx="1426.3" cy="1184.2" r="1.43"/><circle cx="1434.5" cy="1183.9" r="1.10"/><circle cx="1461.4" cy="1185.9" r="2.14"/><circle cx="1479.9" cy="1182.6" r="1.43"/><circle cx="1493.1" cy="1185.9" r="1.43"/><circle cx="1500.6" cy="1184.7" r="2.14"/><circle cx="1505.5" cy="1183.6" r="1.78"/><circle cx="1502.2" cy="1188.9" r="1.10"/><circle cx="1500.1" cy="1196.3" r="2.50"/><circle cx="1449.9" cy="1190.2" r="2.14"/><circle cx="1421.3" cy="1191.0" r="1.78"/><circle cx="1400.4" cy="1188.0" r="1.43"/><circle cx="1396.6" cy="1190.5" r="1.78"/><circle cx="1403.2" cy="1193.0" r="1.43"/><circle cx="1343.2" cy="1188.0" r="3.21"/><circle cx="1341.3" cy="1184.7" r="1.43"/><circle cx="1375.1" cy="1195.5" r="1.43"/><circle cx="1382.5" cy="1201.6" r="1.43"/><circle cx="1342.6" cy="1203.4" r="1.43"/><circle cx="1348.2" cy="1205.7" r="1.10"/><circle cx="1352.0" cy="1202.1" r="1.10"/><circle cx="1362.7" cy="1211.5" r="1.10"/><circle cx="1356.1" cy="1214.4" r="2.14"/><circle cx="1365.2" cy="1218.6" r="1.10"/><circle cx="1378.4" cy="1215.8" r="1.10"/><circle cx="1402.3" cy="1209.8" r="1.10"/><circle cx="1408.6" cy="1209.2" r="1.10"/><circle cx="1487.4" cy="1208.3" r="1.78"/><circle cx="1456.8" cy="1218.9" r="2.50"/><circle cx="1443.3" cy="1221.5" r="2.14"/><circle cx="1442.0" cy="1227.6" r="1.10"/><circle cx="1408.6" cy="1224.8" r="2.85"/><circle cx="1390.0" cy="1228.8" r="1.10"/><circle cx="1394.1" cy="1229.8" r="1.43"/><circle cx="1399.0" cy="1230.4" r="1.43"/><circle cx="1404.8" cy="1231.4" r="1.43"/></g>
<rect x="1324.3" y="1090.6" width="199.7" height="1" fill="#8a8cb0" opacity="0.6"/>
</g>
</svg>
</body></html>
